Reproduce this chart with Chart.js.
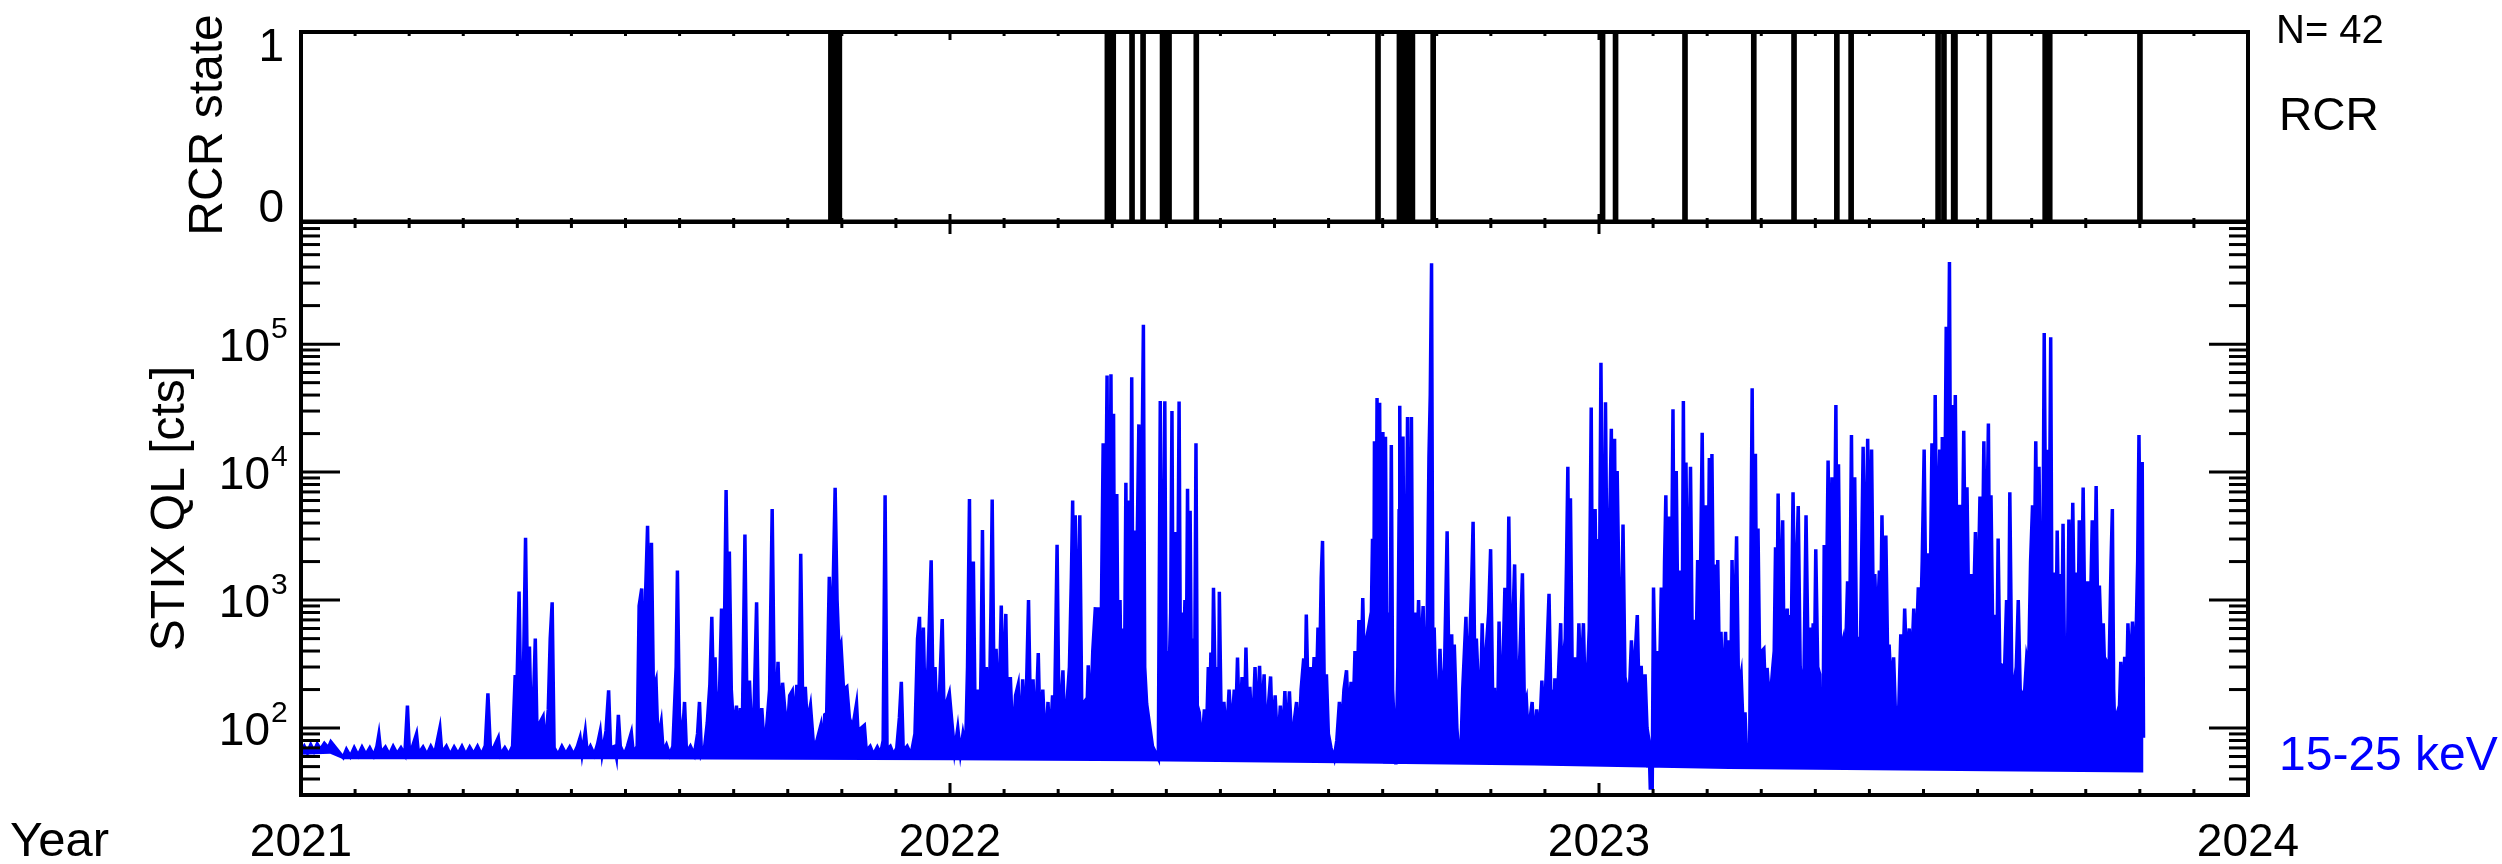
<!DOCTYPE html>
<html>
<head>
<meta charset="utf-8">
<title>STIX QL 15-25 keV and RCR state</title>
<script src="https://cdn.jsdelivr.net/npm/chart.js@4.4.1/dist/chart.umd.min.js"></script>
<style>
  html, body { margin: 0; padding: 0; background: #fff; }
  #wrap { position: relative; width: 2502px; height: 864px; }
  canvas { position: absolute; left: 0; top: 0; }
</style>
</head>
<body>
<div id="wrap">
  <canvas id="stix" width="2502" height="864" style="width:2502px;height:864px"></canvas>
  <canvas id="rcr" width="2502" height="240" style="width:2502px;height:240px"></canvas>
</div>
<script>
const yearTicks = [2021, 2022, 2023, 2024];
const decadeTicks = [100, 1000, 10000, 100000];
const decadeExp = ['2', '3', '4', '5'];

// RCR switches (decimal year): state goes to 1 at start, back to 0 at end
const rcrStart = [2021.816, 2021.819, 2021.821, 2021.824, 2021.827, 2021.829, 2022.242, 2022.245, 2022.248, 2022.251,
  2022.280, 2022.297, 2022.327, 2022.329, 2022.332, 2022.335, 2022.337, 2022.379, 2022.659, 2022.692,
  2022.695, 2022.699, 2022.702, 2022.705, 2022.709, 2022.712, 2022.744, 2023.005, 2023.025, 2023.132,
  2023.238, 2023.300, 2023.366, 2023.388, 2023.522, 2023.531, 2023.546, 2023.548, 2023.601, 2023.687,
  2023.694, 2023.833];
const rcrEnd = [2021.817, 2021.820, 2021.822, 2021.825, 2021.828, 2021.830, 2022.243, 2022.246, 2022.249, 2022.252,
  2022.281, 2022.298, 2022.328, 2022.330, 2022.333, 2022.336, 2022.338, 2022.380, 2022.660, 2022.693,
  2022.696, 2022.700, 2022.703, 2022.706, 2022.710, 2022.713, 2022.745, 2023.006, 2023.026, 2023.133,
  2023.239, 2023.301, 2023.367, 2023.389, 2023.523, 2023.532, 2023.547, 2023.549, 2023.602, 2023.688,
  2023.695, 2023.834];

// STIX QL 15-25 keV counts, [decimal year, counts]
const stix2021 = [[2021.000,66],[2021.005,72],[2021.010,64],[2021.015,74],[2021.020,66],[2021.025,75],[2021.030,68],[2021.036,76],[2021.042,70],[2021.046,78],
  [2021.065,59],[2021.070,68],[2021.076,60],[2021.082,70],[2021.088,61],[2021.094,71],[2021.100,62],[2021.106,70],[2021.112,61],[2021.117,72],
  [2021.120,89],[2021.123,64],[2021.130,71],[2021.136,62],[2021.142,72],[2021.148,63],[2021.154,70],[2021.160,62],[2021.164,150],[2021.167,66],
  [2021.172,72],[2021.178,90],[2021.181,63],[2021.188,71],[2021.194,62],[2021.200,72],[2021.206,63],[2021.214,100],[2021.217,64],[2021.224,72],
  [2021.230,62],[2021.236,71],[2021.242,63],[2021.248,72],[2021.254,62],[2021.260,71],[2021.266,63],[2021.272,72],[2021.278,62],[2021.284,73],
  [2021.288,187],[2021.292,66],[2021.298,72],[2021.304,84],[2021.307,62],[2021.314,70],[2021.320,62],[2021.326,72],[2021.330,260],[2021.332,140],
  [2021.336,1165],[2021.339,120],[2021.343,320],[2021.346,3070],[2021.349,190],[2021.352,433],[2021.355,90],[2021.358,150],[2021.361,500],[2021.364,75],
  [2021.368,110],[2021.373,123],[2021.376,66],[2021.381,140],[2021.384,500],[2021.387,960],[2021.390,70],[2021.396,62],[2021.402,72],[2021.408,63],
  [2021.414,71],[2021.420,62],[2021.426,72],[2021.430,84],[2021.433,63],[2021.438,94],[2021.441,64],[2021.446,72],[2021.452,62],[2021.457,75],
  [2021.461,94],[2021.464,63],[2021.470,95],[2021.474,197],[2021.477,70],[2021.483,72],[2021.486,60],[2021.489,127],[2021.492,72],[2021.498,62],
  [2021.503,72],[2021.509,92],[2021.512,64],[2021.518,72],[2021.521,900],[2021.525,1230],[2021.528,150],[2021.531,1150],[2021.534,3800],[2021.537,400],
  [2021.540,2800],[2021.543,200],[2021.547,235],[2021.550,80],[2021.555,111],[2021.558,66],[2021.563,74],[2021.568,62],[2021.573,72],[2021.578,300],
  [2021.580,1700],[2021.583,130],[2021.587,72],[2021.591,160],[2021.594,64],[2021.600,72],[2021.606,62],[2021.611,90],[2021.614,160],[2021.617,63],
  [2021.622,72],[2021.626,110],[2021.630,220],[2021.633,740],[2021.636,130],[2021.638,358],[2021.641,90],[2021.645,200],[2021.648,860],[2021.651,140],
  [2021.655,7250],[2021.658,500],[2021.660,2400],[2021.663,200],[2021.667,90],[2021.671,150],[2021.674,66],[2021.677,143],[2021.680,100],[2021.684,3250],
  [2021.687,160],[2021.691,235],[2021.694,100],[2021.698,130],[2021.702,960],[2021.705,90],[2021.710,143],[2021.714,66],[2021.718,110],[2021.722,200],
  [2021.726,5150],[2021.729,250],[2021.732,140],[2021.735,330],[2021.738,110],[2021.742,226],[2021.745,150],[2021.749,90],[2021.753,180],[2021.757,195],
  [2021.760,100],[2021.764,218],[2021.767,120],[2021.770,2300],[2021.773,150],[2021.777,210],[2021.780,110],[2021.785,150],[2021.790,70],[2021.795,80],
  [2021.801,105],[2021.804,70],[2021.807,127],[2021.810,130],[2021.814,1520],[2021.818,400],[2021.823,7540],[2021.826,1000],[2021.829,400],[2021.832,450],
  [2021.836,200],[2021.841,210],[2021.845,120],[2021.850,100],[2021.856,155],[2021.859,80],[2021.863,100],[2021.868,105],[2021.871,66],[2021.877,72],
  [2021.882,62],[2021.888,71],[2021.893,63],[2021.897,80],[2021.900,6600],[2021.903,68],[2021.908,72],[2021.913,62],[2021.918,70],[2021.922,120],
  [2021.925,230],[2021.928,66],[2021.934,72],[2021.940,62],[2021.946,90],[2021.950,500],[2021.953,740],[2021.956,130],[2021.959,610],[2021.962,110],
  [2021.966,300],[2021.971,2050],[2021.974,150],[2021.977,300],[2021.980,100],[2021.984,200],[2021.988,710],[2021.991,120],[2021.995,160],[2021.999,187]];

const stix2022 = [[2022.003,110],[2022.007,66],[2022.012,100],[2022.016,64],[2022.020,90],[2022.024,68],[2022.027,300],[2022.030,6150],[2022.032,200],[2022.036,2000],
  [2022.039,90],[2022.043,200],[2022.046,75],[2022.048,357],[2022.050,3530],[2022.053,120],[2022.056,300],[2022.060,90],[2022.063,800],[2022.065,6100],
  [2022.068,150],[2022.071,416],[2022.075,100],[2022.079,905],[2022.082,150],[2022.086,780],[2022.089,90],[2022.093,250],[2022.097,70],[2022.101,180],
  [2022.105,218],[2022.108,75],[2022.112,240],[2022.116,80],[2022.121,1000],[2022.124,120],[2022.128,240],[2022.131,70],[2022.136,385],[2022.139,80],
  [2022.143,200],[2022.147,68],[2022.151,160],[2022.154,70],[2022.158,180],[2022.161,120],[2022.165,2700],[2022.168,110],[2022.171,150],[2022.174,283],
  [2022.177,80],[2022.181,180],[2022.184,300],[2022.187,1500],[2022.189,6000],[2022.191,300],[2022.193,4600],[2022.196,300],[2022.200,4600],[2022.203,150],
  [2022.207,160],[2022.210,90],[2022.213,310],[2022.216,100],[2022.220,400],[2022.224,880],[2022.226,150],[2022.229,880],[2022.232,200],[2022.236,16800],
  [2022.238,300],[2022.242,56900],[2022.244,400],[2022.246,1000],[2022.248,58200],[2022.250,500],[2022.252,28600],[2022.254,200],[2022.257,6750],[2022.259,250],
  [2022.262,1000],[2022.264,150],[2022.267,600],[2022.269,300],[2022.271,8260],[2022.273,300],[2022.276,6000],[2022.278,250],[2022.280,55000],[2022.282,300],
  [2022.284,3500],[2022.286,200],[2022.288,2000],[2022.291,23600],[2022.293,300],[2022.295,4000],[2022.298,141900],[2022.300,300],[2022.303,155],[2022.312,72],
  [2022.321,58],[2022.324,36000],[2022.326,300],[2022.328,500],[2022.331,35700],[2022.333,250],[2022.335,400],[2022.337,200],[2022.340,800],[2022.342,30000],
  [2022.344,250],[2022.348,3400],[2022.350,200],[2022.353,35600],[2022.355,300],[2022.357,800],[2022.359,200],[2022.362,1000],[2022.364,250],[2022.366,7400],
  [2022.368,300],[2022.370,5000],[2022.372,200],[2022.375,500],[2022.377,250],[2022.379,16800],[2022.381,150],[2022.384,133],[2022.388,70],[2022.392,140],
  [2022.395,80],[2022.398,300],[2022.400,120],[2022.402,390],[2022.404,150],[2022.406,1250],[2022.409,150],[2022.412,300],[2022.414,120],[2022.415,1160],
  [2022.418,100],[2022.422,160],[2022.426,80],[2022.430,200],[2022.434,90],[2022.438,200],[2022.440,100],[2022.443,355],[2022.446,90],[2022.450,250],
  [2022.453,80],[2022.456,425],[2022.459,100],[2022.462,210],[2022.466,80],[2022.470,300],[2022.473,90],[2022.477,307],[2022.480,100],[2022.484,263],
  [2022.487,75],[2022.491,160],[2022.494,253],[2022.497,80],[2022.501,180],[2022.505,66],[2022.509,150],[2022.512,66],[2022.516,195],[2022.519,75],
  [2022.523,194],[2022.527,66],[2022.531,120],[2022.534,160],[2022.537,66],[2022.541,200],[2022.545,350],[2022.547,150],[2022.549,770],[2022.552,150],
  [2022.555,300],[2022.558,150],[2022.561,358],[2022.564,150],[2022.567,610],[2022.569,200],[2022.572,1500],[2022.574,2900],[2022.577,150],[2022.580,263],
  [2022.583,90],[2022.587,70],[2022.592,58],[2022.596,80],[2022.600,160],[2022.603,90],[2022.607,200],[2022.611,283],[2022.614,110],[2022.618,230],
  [2022.621,120],[2022.624,400],[2022.627,150],[2022.630,700],[2022.633,200],[2022.636,1039],[2022.639,200],[2022.642,500],[2022.645,610],[2022.648,300],
  [2022.651,3020],[2022.653,500],[2022.654,17400],[2022.656,400],[2022.658,38000],[2022.660,600],[2022.662,34800],[2022.664,400],[2022.667,20600],[2022.669,500],
  [2022.671,18900],[2022.673,400],[2022.676,800],[2022.678,300],[2022.680,16300],[2022.682,200],[2022.685,90],[2022.687,52],[2022.690,300],[2022.692,5000],
  [2022.693,33000],[2022.695,400],[2022.698,19000],[2022.700,300],[2022.703,2000],[2022.705,27000],[2022.707,300],[2022.709,1000],[2022.711,27000],[2022.713,400],
  [2022.716,800],[2022.719,300],[2022.722,1000],[2022.725,300],[2022.729,900],[2022.732,200],[2022.735,500],[2022.738,13300],[2022.740,40000],[2022.742,428000],
  [2022.744,300],[2022.746,610],[2022.749,150],[2022.751,100],[2022.755,416],[2022.758,150],[2022.762,300],[2022.766,3450],[2022.769,200],[2022.773,540],
  [2022.775,150],[2022.777,450],[2022.781,100],[2022.784,62],[2022.787,60],[2022.790,200],[2022.795,740],[2022.798,150],[2022.801,500],[2022.804,1500],
  [2022.806,4100],[2022.809,200],[2022.811,500],[2022.814,220],[2022.817,120],[2022.820,660],[2022.823,150],[2022.826,400],[2022.830,800],[2022.833,2500],
  [2022.836,200],[2022.839,200],[2022.841,70],[2022.843,56],[2022.846,680],[2022.849,120],[2022.852,300],[2022.855,1250],[2022.858,200],[2022.861,4500],
  [2022.864,300],[2022.867,600],[2022.870,1900],[2022.873,200],[2022.876,200],[2022.879,500],[2022.882,1620],[2022.885,150],[2022.888,170],[2022.891,80],
  [2022.894,120],[2022.897,160],[2022.900,70],[2022.904,140],[2022.908,80],[2022.912,235],[2022.915,90],[2022.919,300],[2022.923,1120],[2022.926,150],
  [2022.928,167],[2022.930,90],[2022.932,245],[2022.935,120],[2022.938,300],[2022.941,660],[2022.943,150],[2022.945,330],[2022.948,500],[2022.950,2000],
  [2022.952,11000],[2022.954,400],[2022.956,6240],[2022.959,200],[2022.963,357],[2022.966,150],[2022.969,660],[2022.972,200],[2022.976,660],[2022.979,150],
  [2022.983,330],[2022.985,600],[2022.988,32000],[2022.990,500],[2022.992,800],[2022.994,5150],[2022.997,400],[2022.999,3000]];

const stix2023 = [[2023.001,2000],[2023.003,71500],[2023.006,500],[2023.008,1500],[2023.010,35100],[2023.013,600],[2023.016,3000],[2023.019,21800],[2023.021,800],[2023.024,18200],
  [2023.026,500],[2023.028,10200],[2023.031,1000],[2023.034,300],[2023.037,3900],[2023.040,250],[2023.043,210],[2023.046,150],[2023.050,485],[2023.053,200],
  [2023.056,400],[2023.059,765],[2023.062,150],[2023.065,307],[2023.068,120],[2023.071,263],[2023.074,100],[2023.077,80],[2023.079,34],[2023.082,34],
  [2023.084,1256],[2023.087,200],[2023.090,400],[2023.093,200],[2023.096,1256],[2023.099,250],[2023.101,2000],[2023.103,6600],[2023.106,400],[2023.108,4500],
  [2023.111,500],[2023.114,31000],[2023.116,600],[2023.119,10200],[2023.122,400],[2023.125,1700],[2023.128,300],[2023.130,36000],[2023.132,500],[2023.134,11900],
  [2023.137,400],[2023.141,11000],[2023.144,300],[2023.146,700],[2023.149,250],[2023.152,2060],[2023.155,400],[2023.159,20300],[2023.162,500],[2023.164,5500],
  [2023.167,300],[2023.170,12900],[2023.172,500],[2023.174,13860],[2023.177,300],[2023.179,1900],[2023.181,400],[2023.183,2060],[2023.186,200],[2023.188,565],
  [2023.191,150],[2023.195,565],[2023.198,150],[2023.200,485],[2023.203,200],[2023.205,2060],[2023.208,300],[2023.212,3150],[2023.215,200],[2023.219,263],
  [2023.222,100],[2023.225,133],[2023.228,52],[2023.232,52],[2023.234,2000],[2023.236,45270],[2023.238,1000],[2023.241,13900],[2023.243,500],[2023.245,3630],
  [2023.248,200],[2023.251,400],[2023.254,416],[2023.257,150],[2023.259,295],[2023.263,150],[2023.268,307],[2023.270,400],[2023.272,2590],[2023.274,500],
  [2023.276,6800],[2023.279,500],[2023.283,4200],[2023.285,400],[2023.290,859],[2023.292,250],[2023.294,766],[2023.296,400],[2023.299,6950],[2023.302,500],
  [2023.304,1500],[2023.307,5430],[2023.310,300],[2023.314,170],[2023.316,300],[2023.319,4600],[2023.322,400],[2023.325,610],[2023.328,250],[2023.330,658],
  [2023.332,300],[2023.334,2500],[2023.337,300],[2023.340,263],[2023.342,52],[2023.345,52],[2023.347,2692],[2023.350,600],[2023.353,12300],[2023.356,800],
  [2023.359,9100],[2023.362,800],[2023.365,33400],[2023.367,800],[2023.369,11500],[2023.372,400],[2023.376,485],[2023.379,250],[2023.383,1400],[2023.386,400],
  [2023.389,19500],[2023.391,800],[2023.394,9100],[2023.397,400],[2023.400,500],[2023.403,500],[2023.407,15800],[2023.410,700],[2023.414,18200],[2023.417,800],
  [2023.420,15000],[2023.423,500],[2023.425,1600],[2023.428,500],[2023.432,1700],[2023.434,600],[2023.436,4600],[2023.439,500],[2023.442,3200],[2023.445,300],
  [2023.447,449],[2023.450,200],[2023.454,357],[2023.457,120],[2023.460,133],[2023.462,150],[2023.465,540],[2023.468,250],[2023.471,860],[2023.474,300],
  [2023.478,600],[2023.481,250],[2023.485,859],[2023.488,300],[2023.492,1256],[2023.495,500],[2023.498,2000],[2023.501,15000],[2023.504,600],[2023.507,2320],
  [2023.510,800],[2023.513,16800],[2023.516,1500],[2023.518,40000],[2023.521,1000],[2023.523,5000],[2023.525,15000],[2023.527,1000],[2023.529,18800],[2023.532,1500],
  [2023.535,136700],[2023.537,5000],[2023.540,438000],[2023.542,2000],[2023.544,33400],[2023.546,1500],[2023.549,40000],[2023.552,1000],[2023.556,5560],[2023.559,800],
  [2023.562,21000],[2023.565,800],[2023.567,7600],[2023.570,600],[2023.573,1600],[2023.576,500],[2023.580,3400],[2023.583,600],[2023.587,6450],[2023.590,800],
  [2023.593,17400],[2023.596,1000],[2023.600,24000],[2023.602,800],[2023.604,6600],[2023.607,400],[2023.611,766],[2023.613,300],[2023.615,3030],[2023.618,200],
  [2023.622,307],[2023.625,300],[2023.628,1000],[2023.631,300],[2023.633,6950],[2023.636,250],[2023.640,226],[2023.643,300],[2023.646,1000],[2023.649,200],
  [2023.653,170],[2023.656,200],[2023.659,357],[2023.662,300],[2023.665,2000],[2023.668,5500],[2023.670,800],[2023.673,17400],[2023.676,600],[2023.678,11000],
  [2023.681,500],[2023.684,2000],[2023.686,121900],[2023.689,800],[2023.691,14960],[2023.693,600],[2023.696,113000],[2023.698,500],[2023.702,1641],[2023.704,400],
  [2023.706,3500],[2023.709,300],[2023.711,1600],[2023.713,400],[2023.715,3940],[2023.718,150],[2023.721,114],[2023.724,4270],[2023.727,500],[2023.730,5750],
  [2023.733,400],[2023.736,1641],[2023.738,500],[2023.740,4200],[2023.743,500],[2023.746,7580],[2023.749,400],[2023.753,1400],[2023.756,400],[2023.760,4200],
  [2023.763,500],[2023.766,7800],[2023.769,400],[2023.771,1300],[2023.775,300],[2023.777,658],[2023.780,200],[2023.782,330],[2023.786,300],[2023.789,2000],
  [2023.791,5150],[2023.793,200],[2023.795,84],[2023.798,70],[2023.799,133],[2023.802,150],[2023.804,330],[2023.807,120],[2023.810,360],[2023.813,200],
  [2023.815,660],[2023.818,250],[2023.822,680],[2023.825,250],[2023.828,680],[2023.830,2000],[2023.832,19500],[2023.835,600],[2023.837,12000],[2023.839,84]];

// lower edge of the background band
const floorYear = [2021.000, 2021.045, 2021.065, 2021.500, 2022.000, 2022.300, 2022.600, 2022.900, 2023.200, 2023.600, 2023.839];
const floorCts = [62, 63, 57, 57, 56, 55, 53, 51, 48, 46, 45];

const FONT = '"Liberation Sans", Arial, Helvetica, sans-serif';
const BLUE = '#0000ff';

function tick(ctx, x0, y0, x1, y1) {
  ctx.beginPath();
  ctx.moveTo(x0, y0);
  ctx.lineTo(x1, y1);
  ctx.stroke();
}

// major tick on each year, minor tick every month, inside the frame top and bottom
function monthTicks(ctx, x, a, major, minor) {
  for (let yr = yearTicks[0]; yr < yearTicks[yearTicks.length - 1]; yr++) {
    for (let m = 0; m < 12; m++) {
      const px = x.getPixelForValue(yr + m / 12);
      const len = m === 0 ? major : minor;
      tick(ctx, px, a.bottom, px, a.bottom - len);
      tick(ctx, px, a.top, px, a.top + len);
    }
  }
}

function vtext(ctx, txt, x, y) {
  ctx.save();
  ctx.translate(x, y);
  ctx.rotate(-Math.PI / 2);
  ctx.textAlign = 'center';
  ctx.fillText(txt, 0, 0);
  ctx.restore();
}

const rcrAxes = {
  id: 'rcrAxes',
  afterDatasetsDraw(chart) {
    const {ctx, chartArea: a, scales: {x, y}} = chart;
    ctx.save();
    ctx.strokeStyle = '#000';
    ctx.lineWidth = 3;
    monthTicks(ctx, x, a, 8, 4);
    ctx.lineWidth = 4;
    ctx.strokeRect(a.left, a.top, a.right - a.left, a.bottom - a.top);

    ctx.fillStyle = '#000';
    ctx.textBaseline = 'alphabetic';
    ctx.font = '46px ' + FONT;
    ctx.textAlign = 'right';
    ctx.fillText('1', a.left - 17, y.getPixelForValue(1) + 29);
    ctx.fillText('0', a.left - 17, y.getPixelForValue(0));
    ctx.font = '48px ' + FONT;
    vtext(ctx, 'RCR state', a.left - 79, (a.top + a.bottom) / 2 - 2);

    ctx.textAlign = 'left';
    ctx.font = '40px ' + FONT;
    ctx.fillText('N= ' + rcrStart.length, a.right + 28, 43);
    ctx.font = '46px ' + FONT;
    ctx.fillText('RCR', a.right + 31, 130);
    ctx.restore();
  }
};

const stixAxes = {
  id: 'stixAxes',
  afterDatasetsDraw(chart) {
    const {ctx, chartArea: a, scales: {x, y}} = chart;
    ctx.save();
    ctx.strokeStyle = '#000';
    ctx.lineWidth = 3;
    monthTicks(ctx, x, a, 12, 6);
    for (let d = 1; d <= 5; d++) {
      for (let k = 1; k <= 9; k++) {
        const v = k * Math.pow(10, d);
        if (v <= y.min || v >= y.max) continue;
        const py = y.getPixelForValue(v);
        const len = k === 1 ? 39 : 19;
        tick(ctx, a.left, py, a.left + len, py);
        tick(ctx, a.right, py, a.right - len, py);
      }
    }
    ctx.lineWidth = 4;
    ctx.strokeRect(a.left, a.top, a.right - a.left, a.bottom - a.top);

    ctx.fillStyle = '#000';
    ctx.textBaseline = 'alphabetic';
    decadeTicks.forEach((v, i) => {
      const py = y.getPixelForValue(v);
      ctx.font = '46px ' + FONT;
      ctx.textAlign = 'right';
      ctx.fillText('10', a.left - 31, py + 17);
      ctx.font = '30px ' + FONT;
      ctx.textAlign = 'left';
      ctx.fillText(decadeExp[i], a.left - 30, py - 6);
    });

    ctx.font = '46px ' + FONT;
    ctx.textAlign = 'center';
    yearTicks.forEach(yr => ctx.fillText(String(yr), x.getPixelForValue(yr), a.bottom + 61));
    ctx.textAlign = 'left';
    ctx.font = '49px ' + FONT;
    ctx.fillText('Year', 10, a.bottom + 61);

    ctx.font = '48px ' + FONT;
    vtext(ctx, 'STIX QL [cts]', a.left - 117, (a.top + a.bottom) / 2);

    ctx.fillStyle = BLUE;
    ctx.textAlign = 'left';
    ctx.fillText('15-25 keV', a.right + 31, a.bottom - 25);
    ctx.restore();
  }
};

const stixPoints = [...stix2021, ...stix2022, ...stix2023].map(([x, y]) => ({x, y}));
const floorPoints = floorYear.map((x, i) => ({x, y: floorCts[i]}));

const rcrPoints = [{x: yearTicks[0], y: 0}];
rcrStart.forEach((s, i) => rcrPoints.push({x: s, y: 1}, {x: rcrEnd[i], y: 0}));
rcrPoints.push({x: yearTicks[yearTicks.length - 1], y: 0});

const xScale = {type: 'linear', min: yearTicks[0], max: yearTicks[yearTicks.length - 1], display: false};

new Chart(document.getElementById('stix'), {
  type: 'line',
  data: {
    datasets: [{
      label: '15-25 keV',
      data: stixPoints,
      borderColor: BLUE,
      backgroundColor: BLUE,
      borderWidth: 3.5,
      pointRadius: 0,
      tension: 0,
      fill: '+1'
    }, {
      label: 'floor',
      data: floorPoints,
      borderColor: 'rgba(0,0,0,0)',
      borderWidth: 1,
      pointRadius: 0,
      fill: false
    }]
  },
  options: {
    responsive: false,
    animation: false,
    events: [],
    layout: {padding: {left: 301, right: 254, top: 222, bottom: 69}},
    plugins: {legend: {display: false}, tooltip: {enabled: false}},
    scales: {
      x: xScale,
      y: {type: 'logarithmic', min: 30, max: 9e5, display: false}
    }
  },
  plugins: [stixAxes]
});

new Chart(document.getElementById('rcr'), {
  type: 'line',
  data: {
    datasets: [{
      label: 'RCR',
      data: rcrPoints,
      stepped: 'before',
      borderColor: '#000',
      borderWidth: 5,
      pointRadius: 0,
      fill: false
    }]
  },
  options: {
    responsive: false,
    animation: false,
    events: [],
    layout: {padding: {left: 301, right: 254, top: 32, bottom: 18}},
    plugins: {legend: {display: false}, tooltip: {enabled: false}},
    scales: {
      x: xScale,
      y: {type: 'linear', min: 0, max: 1, display: false}
    }
  },
  plugins: [rcrAxes]
});
</script>
</body>
</html>
